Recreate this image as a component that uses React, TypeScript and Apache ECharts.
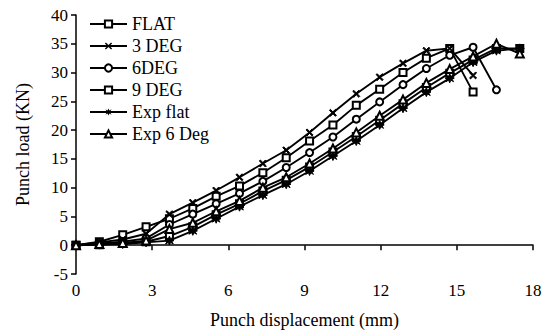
import React, { useEffect, useRef } from "react";
import * as echarts from "echarts";

const xs = [0, 0.92, 1.84, 2.76, 3.68, 4.6, 5.52, 6.44, 7.36, 8.28, 9.2, 10.12, 11.04, 11.96, 12.88, 13.8, 14.72, 15.64, 16.56, 17.48];

const seriesNames = ["FLAT", "3 DEG", "6DEG", "9 DEG", "Exp flat", "Exp 6 Deg"];
const flat = [0, 0.6, 1.8, 3.2, 4.6, 6.4, 8.5, 10.3, 12.6, 15.2, 18.1, 20.9, 24.3, 27.1, 30.0, 32.5, 34.2, 26.6];
const deg3 = [0, 0.5, 1.0, 2.0, 5.4, 7.4, 9.5, 11.8, 14.2, 16.5, 19.6, 23.0, 26.3, 29.2, 31.6, 33.8, 34.2, 29.5];
const deg6 = [0, 0.3, 0.6, 1.2, 3.6, 5.4, 7.2, 9.0, 11.1, 13.5, 16.1, 18.8, 21.9, 24.9, 27.9, 30.7, 33.0, 34.4, 27.0];
const deg9 = [0, 0.1, 0.3, 0.6, 1.6, 3.2, 5.3, 7.2, 9.4, 11.3, 13.6, 16.2, 18.9, 21.7, 24.6, 27.4, 29.9, 32.2, 34.2, 34.2];
const expFlat = [0, 0.1, 0.2, 0.5, 0.8, 2.5, 4.6, 6.7, 8.7, 10.6, 12.9, 15.5, 18.1, 20.9, 23.8, 26.6, 29.0, 31.8, 33.8, 34.2];
const exp6 = [0, 0.2, 0.4, 0.8, 2.8, 3.9, 5.9, 7.7, 10.0, 11.8, 14.2, 16.8, 19.6, 22.5, 25.3, 28.2, 30.6, 32.8, 35.0, 33.3];

const xTicks = { min: 0, max: 18, interval: 3 };
const yTicks = { min: -5, max: 40, interval: 5 };

const X_SYMBOL = "path://M0,1.4 L1.4,0 L5,3.6 L8.6,0 L10,1.4 L6.4,5 L10,8.6 L8.6,10 L5,6.4 L1.4,10 L0,8.6 L3.6,5 Z";
const STAR_SYMBOL = "path://M5,0 L6.3,3 L9.3,1.2 L7.6,4 L10,5 L7.6,6 L9.3,8.8 L6.3,7 L5,10 L3.7,7 L0.7,8.8 L2.4,6 L0,5 L2.4,4 L0.7,1.2 L3.7,3 Z";

const FONT = "'Liberation Serif', 'DejaVu Serif', serif";

export default function App() {
  const ref = useRef<HTMLDivElement>(null);
  useEffect(() => {
    if (!ref.current) return;
    const chart = echarts.init(ref.current, undefined, { renderer: "svg" });
    const allVals = [flat, deg3, deg6, deg9, expFlat, exp6];
    const symbols = ["emptyRect", X_SYMBOL, "emptyCircle", "emptyRect", STAR_SYMBOL, "emptyTriangle"];
    const sizes = [7, 7, 7, 7, 9, 8];
    const series = seriesNames.map((name, k) => ({
      name,
      type: "line",
      data: allVals[k].map((v, i) => [xs[i], v]),
      symbol: symbols[k],
      symbolSize: sizes[k],
      showAllSymbol: true,
      lineStyle: { color: "#000", width: 1.9 },
      itemStyle: { color: "#000", borderColor: "#000" },
      emphasis: { disabled: true },
    }));
    chart.setOption({
      animation: false,
      backgroundColor: "#fff",
      textStyle: { fontFamily: FONT, color: "#000" },
      grid: { left: 76, right: 13, top: 15, bottom: 30, containLabel: false },
      legend: {
        orient: "vertical",
        left: 84,
        top: 9,
        itemWidth: 37,
        itemHeight: 9,
        itemGap: 2,
        data: seriesNames,
        textStyle: { fontFamily: FONT, fontSize: 18, color: "#000", lineHeight: 20 },
      },
      xAxis: {
        type: "value",
        min: xTicks.min,
        max: xTicks.max,
        interval: xTicks.interval,
        name: "Punch displacement (mm)",
        nameLocation: "middle",
        nameGap: 37,
        nameTextStyle: { fontFamily: FONT, fontSize: 18, color: "#000" },
        axisLine: { show: true, onZero: true, lineStyle: { color: "#000", width: 1.5 } },
        axisTick: { show: true, inside: false, length: 5, lineStyle: { color: "#000", width: 1.5 } },
        axisLabel: { fontFamily: FONT, fontSize: 17, color: "#000", margin: 8 },
        splitLine: { show: false },
      },
      yAxis: {
        type: "value",
        min: yTicks.min,
        max: yTicks.max,
        interval: yTicks.interval,
        name: "Punch load (KN)",
        nameLocation: "middle",
        nameGap: 44,
        nameTextStyle: { fontFamily: FONT, fontSize: 18, color: "#000" },
        axisLine: { show: true, onZero: false, lineStyle: { color: "#000", width: 1.5 } },
        axisTick: { show: true, inside: false, length: 5, lineStyle: { color: "#000", width: 1.5 } },
        axisLabel: { fontFamily: FONT, fontSize: 17, color: "#000", margin: 8 },
        splitLine: { show: false },
      },
      series,
    });
    return () => chart.dispose();
  }, []);
  return <div ref={ref} style={{ width: 546, height: 334, position: "absolute", left: 0, top: 0 }} />;
}
